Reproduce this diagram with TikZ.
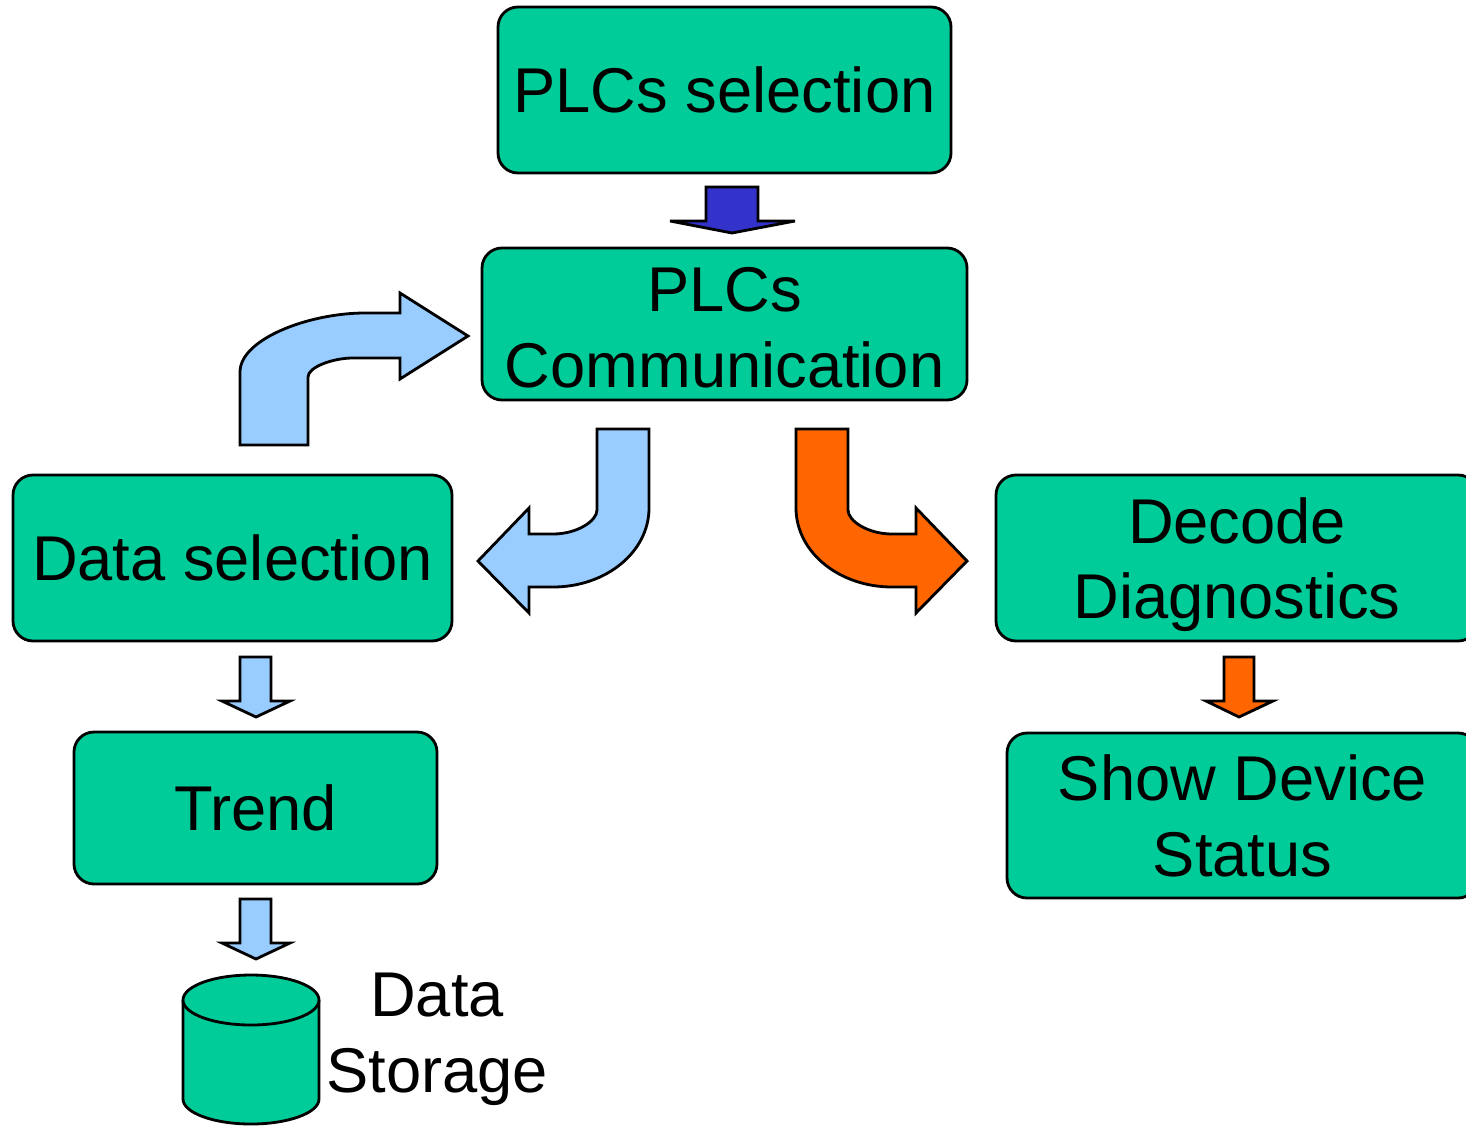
\documentclass[tikz,border=0pt]{standalone}
\usepackage{fontspec}
\setmainfont{Liberation Sans}
\usepackage{tikz}
\usetikzlibrary{calc}
\usepackage{color}
\definecolor{boxgreen}{rgb}{0,0.8,0.6}
\definecolor{paleblue}{rgb}{0.6,0.8,1}
\definecolor{deepblue}{rgb}{0.2,0.2,0.8}
\definecolor{hotorange}{rgb}{1,0.4,0}

\begin{document}
\begin{tikzpicture}
      [x = 0.1mm, y = -0.1mm,
      box/.style= {
         draw,
         fill = boxgreen,
         rounded corners = 2mm,
         line width = 0.8pt,
         align = center,
         inner sep = 0pt,
         font = \fontsize{18}{21.6}\selectfont
      },
      block/.style= {
         draw,
         line width = 0.8pt,
         line join = miter
      }]

      \useasboundingbox (0, 0) rectangle (1466, 1125);

      % boxes
      \node[box, minimum width = 45.3mm, minimum height = 16.6mm] (plcsel) at (724.5, 90) {PLCs selection};
      \node[box, minimum width = 48.5mm, minimum height = 15.2mm, text height = 36.2pt] (plccom) at (724.5, 324) {PLCs\\Communication};
      \node[box, minimum width = 43.9mm, minimum height = 16.6mm] (datasel) at (232.5, 558) {Data selection};
      \node[box, minimum width = 48.2mm, minimum height = 16.6mm, text height = 38.4pt] (decode) at (1237, 558) {Decode\\Diagnostics};
      \node[box, minimum width = 36.3mm, minimum height = 15.2mm] (trend) at (255.5, 808) {Trend};
      \node[box, minimum width = 47.1mm, minimum height = 16.5mm] (devstatus) at (1242.5, 815.5) {Show Device\\Status};

      % storage cylinder
      \draw[block, fill = boxgreen] (183, 1000) -- (183, 1099) arc (180:360:6.8mm and 2.5mm) -- (319, 1000);
      \draw[block, fill = boxgreen] (251, 1000) ellipse (6.8mm and 2.5mm);
      \node[align = center, inner sep = 0pt, font = \fontsize{18}{21.6}\selectfont] (storage) at (437, 1039) {Data\\Storage};

      % straight block arrows
      \draw[block, fill = deepblue] (706, 187) -- (758, 187) -- (758, 221) -- (795, 221) -- (732, 233) -- (670, 221) -- (706, 221) -- cycle;
      \draw[block, fill = paleblue] (240, 657) -- (271, 657) -- (271, 701) -- (290, 701) -- (256, 717) -- (222, 701) -- (240, 701) -- cycle;
      \draw[block, fill = paleblue] (240, 899) -- (271, 899) -- (271, 943) -- (290, 943) -- (256, 959) -- (222, 943) -- (240, 943) -- cycle;
      \draw[block, fill = hotorange] (1224, 657) -- (1254, 657) -- (1254, 701) -- (1273, 701) -- (1239, 717) -- (1206, 701) -- (1224, 701) -- cycle;

      % bent block arrows
      \draw[block, fill = paleblue] (240, 445) -- (240, 372) .. controls (240, 339) and (309, 313) .. (365, 313) -- (400, 313) -- (400, 293) -- (468, 336) -- (400, 379) -- (400, 358) -- (353, 358) .. controls (333, 358) and (308, 367) .. (308, 377) -- (308, 445) -- cycle;
      \draw[block, fill = paleblue] (597, 429) -- (649, 429) -- (649, 508) .. controls (649, 552) and (606, 587) .. (553, 587) -- (529, 587) -- (529, 613) -- (478, 561) -- (529, 508) -- (529, 534) -- (553, 534) .. controls (577, 534) and (597, 521) .. (597, 510) -- cycle;
      \draw[block, fill = hotorange] (848, 429) -- (796, 429) -- (796, 508) .. controls (796, 552) and (839, 587) .. (892, 587) -- (916, 587) -- (916, 613) -- (967, 561) -- (916, 508) -- (916, 534) -- (892, 534) .. controls (868, 534) and (848, 521) .. (848, 510) -- cycle;

\end{tikzpicture}
\end{document}
